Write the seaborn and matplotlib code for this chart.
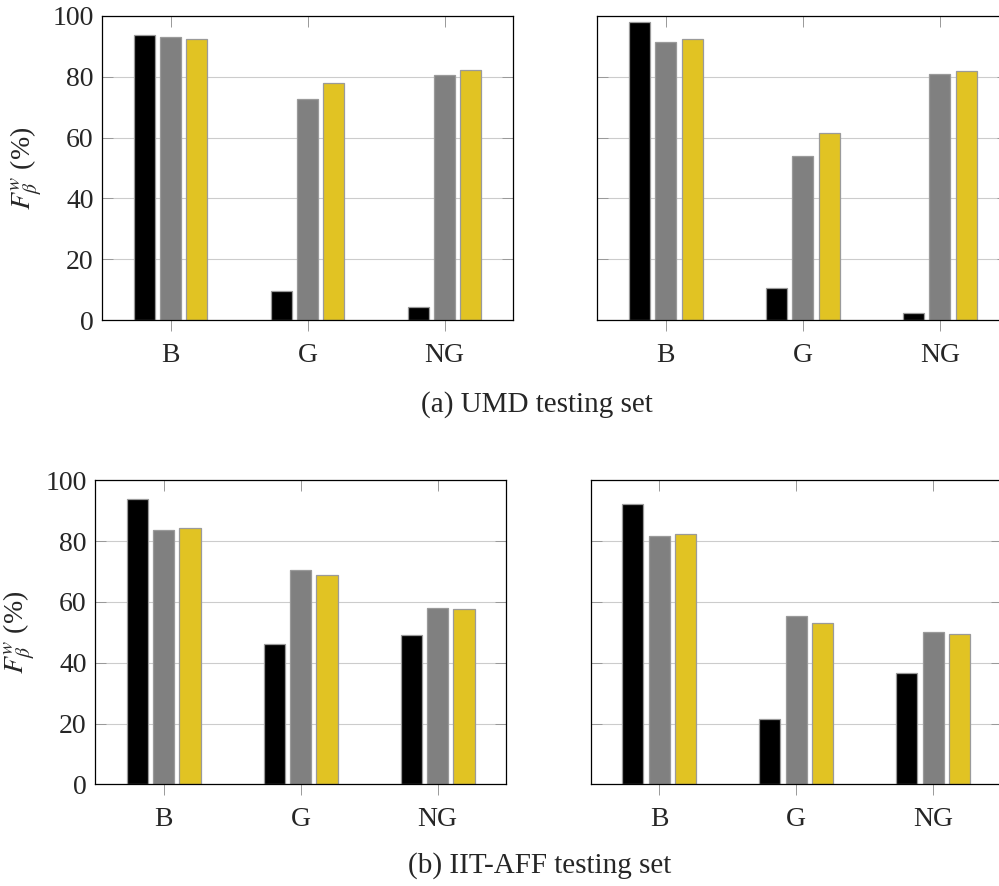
import matplotlib
matplotlib.use("Agg")
import matplotlib.pyplot as plt
import pandas as pd
import seaborn as sns

# ---- data ----
categories = ["B", "G", "NG"]
methods = ["Method 1", "Method 2", "Method 3"]

umd_left_m1 = [93.5, 9.5, 4.3]
umd_left_m2 = [92.9, 72.8, 80.5]
umd_left_m3 = [92.5, 78.0, 82.1]

umd_right_m1 = [97.8, 10.7, 2.3]
umd_right_m2 = [91.5, 54.0, 80.9]
umd_right_m3 = [92.5, 61.4, 81.7]

iit_left_m1 = [93.8, 46.3, 49.2]
iit_left_m2 = [83.7, 70.6, 58.1]
iit_left_m3 = [84.2, 68.8, 57.6]

iit_right_m1 = [92.2, 21.6, 36.7]
iit_right_m2 = [81.7, 55.3, 50.0]
iit_right_m3 = [82.2, 52.9, 49.3]

y_ticks = [0, 20, 40, 60, 80, 100]
captions = ["(a) UMD testing set", "(b) IIT-AFF testing set"]
ylabel = r"$F^{w}_{\beta}$ (%)"

colors = ["#000000", "#808080", "#E1C323"]

sns.set_style("white")
plt.rcParams["font.family"] = ["Liberation Serif", "DejaVu Serif"]
plt.rcParams["mathtext.fontset"] = "stix"


def make_df(m1, m2, m3):
    rows = []
    for name, vals in zip(methods, [m1, m2, m3]):
        for c, v in zip(categories, vals):
            rows.append({"category": c, "method": name, "value": v})
    return pd.DataFrame(rows)


panels = [
    (make_df(umd_left_m1, umd_left_m2, umd_left_m3), [102 / 999, (886 - 320.3) / 886, 411 / 999, 304.6 / 886], True),
    (make_df(umd_right_m1, umd_right_m2, umd_right_m3), [597.3 / 999, (886 - 320.3) / 886, 411 / 999, 304.6 / 886], False),
    (make_df(iit_left_m1, iit_left_m2, iit_left_m3), [95.2 / 999, (886 - 784.3) / 886, 411 / 999, 304 / 886], True),
    (make_df(iit_right_m1, iit_right_m2, iit_right_m3), [590.7 / 999, (886 - 784.3) / 886, 411 / 999, 304 / 886], False),
]

fig = plt.figure(figsize=(9.99, 8.86), dpi=100)

for df, rect, show_labels in panels:
    ax = fig.add_axes(rect)
    sns.barplot(data=df, x="category", y="value", hue="method", order=categories,
                hue_order=methods, palette=colors, width=0.576, gap=0.2,
                edgecolor="#9a9a9a", linewidth=0.9, ax=ax, legend=False,
                errorbar=None, saturation=1)
    ax.set_axisbelow(True)
    ax.set_xlim(-0.5, 2.5)
    ax.set_ylim(0, 100)
    ax.set_yticks(y_ticks)
    ax.yaxis.grid(True, color="#cccccc", linewidth=0.8)
    ax.xaxis.grid(False)
    ax.set_xlabel("")
    for s in ax.spines.values():
        s.set_color("black")
        s.set_linewidth(0.9)
        s.set_visible(True)
    ax.tick_params(axis="y", which="major", direction="in", left=True, right=True,
                   length=8, width=0.7, color="#999999", labelsize=20, pad=6)
    ax.tick_params(axis="x", which="major", direction="out", bottom=True, top=False,
                   length=8, width=0.7, color="#999999", labelsize=20, pad=8)
    sec = ax.secondary_xaxis("top")
    sec.set_xticks(range(len(categories)))
    sec.tick_params(direction="in", length=8, width=0.7, color="#999999", labeltop=False)
    sec.spines["top"].set_visible(False)
    if show_labels:
        ax.set_ylabel(ylabel, fontsize=20, labelpad=6)
    else:
        ax.set_ylabel("")
        ax.set_yticklabels([])

fig.text(537 / 999, 1 - 405 / 886, captions[0], ha="center", va="center", fontsize=21)
fig.text(540 / 999, 1 - 866 / 886, captions[1], ha="center", va="center", fontsize=21)

fig.savefig("out.png", dpi=100)
